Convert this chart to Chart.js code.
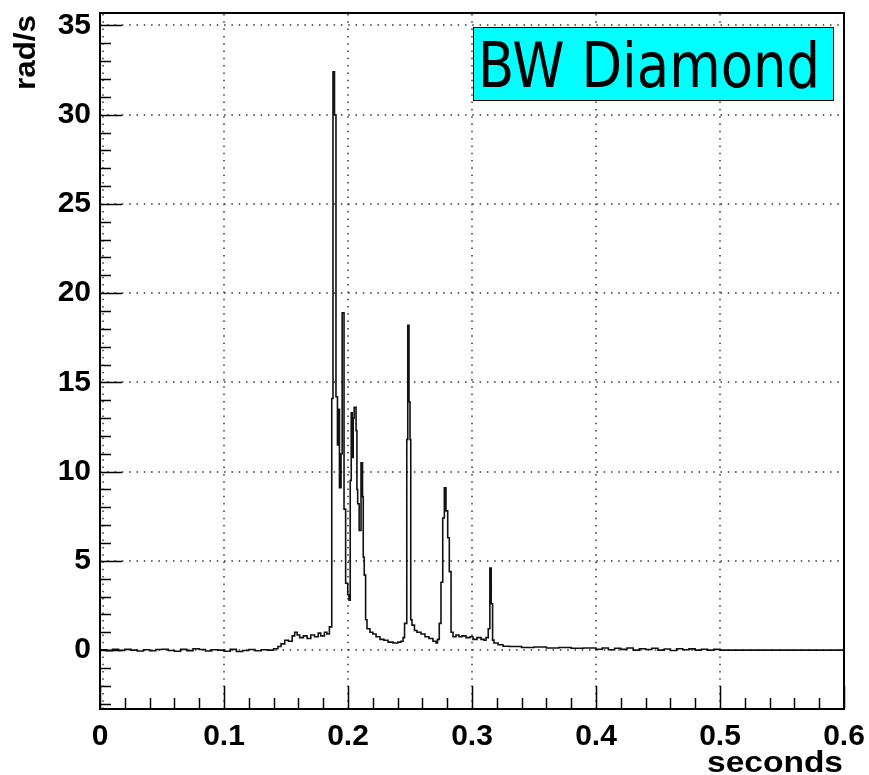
<!DOCTYPE html>
<html>
<head>
<meta charset="utf-8">
<script src="https://cdn.jsdelivr.net/npm/chart.js@4/dist/chart.umd.min.js"></script>
<style>
  body { margin: 0; background: #fff; }
</style>
</head>
<body>
<canvas id="rateChart" width="869" height="775"></canvas>
<script>
// bin start (s) and angular rate (rad/s)
const seconds = [
  0, 0.005, 0.01, 0.015, 0.02, 0.025, 0.03, 0.035, 0.04, 0.045,
  0.05, 0.055, 0.06, 0.065, 0.07, 0.075, 0.08, 0.085, 0.09, 0.095,
  0.1, 0.105, 0.11, 0.115, 0.12, 0.125, 0.13, 0.135, 0.14,
  0.1435, 0.146, 0.149, 0.152, 0.155, 0.157, 0.159, 0.161, 0.164, 0.167,
  0.17, 0.173, 0.176, 0.178, 0.181, 0.183, 0.185,
  0.1869, 0.1879, 0.1891, 0.1903, 0.1915, 0.1923, 0.1931, 0.1944, 0.1953, 0.1968,
  0.1981, 0.1998, 0.2008, 0.2018, 0.2026, 0.2034, 0.2042, 0.205, 0.2065, 0.2072,
  0.2078, 0.209, 0.2105, 0.2117, 0.2123, 0.2131, 0.2142, 0.2153, 0.2177, 0.22,
  0.2226, 0.2258, 0.229, 0.2323, 0.2363, 0.2403, 0.2427, 0.2444, 0.2456,
  0.2474, 0.2482, 0.2492, 0.25, 0.2506, 0.2516, 0.2536, 0.2556, 0.2589, 0.2621,
  0.2653, 0.2685, 0.271, 0.2722,
  0.2736, 0.275, 0.2764, 0.2777, 0.279, 0.2804, 0.2817, 0.2831, 0.2847, 0.2871,
  0.2895, 0.2919, 0.2952, 0.2984, 0.3008, 0.304, 0.3073, 0.3097, 0.3113, 0.3131,
  0.3144, 0.3155, 0.3166, 0.3177, 0.321, 0.325, 0.33, 0.34, 0.35, 0.36,
  0.37, 0.38, 0.39, 0.4, 0.405, 0.41, 0.415, 0.42, 0.425, 0.43,
  0.435, 0.44, 0.445, 0.45, 0.455, 0.46, 0.465, 0.47, 0.475, 0.48,
  0.485, 0.49, 0.495, 0.5, 0.6
];
const radPerSec = [
  0.02, -0.03, 0.05, -0.02, 0.04, 0.0, -0.05, 0.02, -0.04, 0.03,
  0.05, -0.02, -0.06, 0.04, -0.03, 0.08, 0.03, -0.05, 0.02, 0.0,
  -0.06, 0.04, -0.08, -0.02, 0.03, -0.04, 0.02, 0.0, 0.08,
  0.2, 0.35, 0.55, 0.5, 0.8, 1.0, 0.85, 0.7, 0.8, 0.65,
  0.85, 0.75, 0.95, 0.8, 1.0, 0.9, 1.3,
  14.1, 32.4, 30.0, 14.2, 11.5, 13.5, 9.1, 11.0, 18.9, 7.9,
  3.75, 3.1, 2.8, 9.5, 13.3, 10.8, 13.0, 13.6, 12.3, 9.0,
  8.2, 6.7, 10.5, 8.6, 5.2, 4.2, 1.7, 1.2, 1.0, 0.9,
  0.75, 0.6, 0.55, 0.45, 0.4, 0.45, 0.5, 0.7, 1.5,
  11.8, 18.2, 13.9, 11.8, 1.7, 1.4, 1.1, 1.0, 0.9, 0.75,
  0.65, 0.5, 0.4, 0.6,
  1.5, 3.8, 7.4, 9.1, 7.8, 6.3, 4.4, 1.0, 0.75, 0.85,
  0.75, 0.8, 0.7, 0.75, 0.6, 0.7, 0.6, 0.55, 0.7, 1.2,
  4.6, 2.6, 0.56, 0.4, 0.3, 0.22, 0.2, 0.15, 0.17, 0.12,
  0.15, 0.1, 0.12, 0.05, 0.12, 0.02, 0.1, 0.04, 0.12, 0.0,
  0.08, 0.03, 0.1, 0.0, 0.06, -0.02, 0.08, 0.02, 0.07, 0.0,
  0.05, 0.0, 0.04, 0, 0
];
const xTicks = [0, 0.1, 0.2, 0.3, 0.4, 0.5, 0.6];
const yTicks = [0, 5, 10, 15, 20, 25, 30, 35];
const titleText = "BW Diamond";

const tickFont = { family: "'Liberation Sans', Arial, sans-serif", size: 30, weight: "bold" };

// draw text squeezed/stretched to a given width
function fitText(ctx, text, x, y, width) {
  const w = ctx.measureText(text).width;
  ctx.save();
  ctx.translate(x, y);
  ctx.scale(width / w, 1);
  ctx.fillText(text, 0, 0);
  ctx.restore();
}

// ROOT style frame: dotted grid, inside ticks, axis titles, title pave
const rootFrame = {
  id: "rootFrame",
  beforeDatasetsDraw(chart) {
    const { ctx, chartArea: a, scales: { x, y } } = chart;
    ctx.save();
    ctx.strokeStyle = "#333";
    ctx.lineWidth = 1.5;
    ctx.setLineDash([1.5, 5.8]);
    xTicks.forEach(v => {
      const px = Math.round(x.getPixelForValue(v)) + (v === 0 ? 3 : 0);
      ctx.beginPath(); ctx.moveTo(px, a.bottom); ctx.lineTo(px, a.top); ctx.stroke();
    });
    yTicks.forEach(v => {
      const py = Math.round(y.getPixelForValue(v));
      ctx.beginPath(); ctx.moveTo(a.left, py); ctx.lineTo(a.right, py); ctx.stroke();
    });
    ctx.restore();
  },
  afterDraw(chart) {
    const { ctx, chartArea: a, scales: { x, y } } = chart;
    ctx.save();
    ctx.strokeStyle = "#000";
    ctx.lineWidth = 1.5;
    // ticks on x axis
    for (let v = 0; v <= x.max + 1e-9; v += 0.02) {
      const px = Math.round(x.getPixelForValue(v)) + 0.5;
      const major = Math.abs(v * 10 - Math.round(v * 10)) < 1e-6;
      ctx.beginPath(); ctx.moveTo(px, a.bottom); ctx.lineTo(px, a.bottom - (major ? 23 : 11)); ctx.stroke();
    }
    // ticks on y axis
    for (let v = -3; v <= y.max; v += 1) {
      const py = Math.round(y.getPixelForValue(v)) + 0.5;
      const major = v % 5 === 0;
      ctx.beginPath(); ctx.moveTo(a.left, py); ctx.lineTo(a.left + (major ? 22 : 11), py); ctx.stroke();
    }
    // frame
    ctx.lineWidth = 2;
    ctx.strokeRect(a.left, a.top, a.right - a.left, a.bottom - a.top);

    // axis titles
    ctx.fillStyle = "#000";
    ctx.font = "bold 30px 'Liberation Sans', Arial, sans-serif";
    ctx.textAlign = "left";
    ctx.textBaseline = "alphabetic";
    fitText(ctx, "seconds", 707, 772, 136);
    ctx.save();
    ctx.translate(35, 90);
    ctx.rotate(-Math.PI / 2);
    fitText(ctx, "rad/s", 0, 0, 75);
    ctx.restore();

    // title pave
    const bx = 473, by = 27, bw = 360, bh = 73;
    ctx.fillStyle = "#00ffff";
    ctx.fillRect(bx, by, bw, bh);
    ctx.lineWidth = 1;
    ctx.strokeRect(bx + 0.5, by + 0.5, bw, bh);
    ctx.fillStyle = "#000";
    ctx.font = "62px 'DejaVu Sans', Tahoma, sans-serif";
    fitText(ctx, titleText, 478, 87, 342);
    ctx.restore();
  }
};

new Chart(document.getElementById("rateChart"), {
  type: "line",
  data: {
    datasets: [{
      data: seconds.map((s, i) => ({ x: s, y: radPerSec[i] })),
      borderColor: "#111",
      borderWidth: 1.6,
      pointRadius: 0,
      stepped: true,
      fill: false
    }]
  },
  options: {
    responsive: false,
    animation: false,
    layout: { padding: { top: 13, right: 25, left: 0, bottom: 0 } },
    plugins: { legend: { display: false }, tooltip: { enabled: false } },
    scales: {
      x: {
        type: "linear",
        min: 0,
        max: 0.6,
        afterBuildTicks: s => { s.ticks = xTicks.map(v => ({ value: v })); },
        afterFit: s => { s.height = 66; s.paddingLeft = 0; s.paddingRight = 0; },
        grid: { display: false, drawTicks: false },
        border: { display: false },
        ticks: {
          color: "#000",
          font: tickFont,
          padding: 10,
          autoSkip: false,
          maxRotation: 0,
          callback: v => (v === 0 ? "0" : String(+v.toFixed(1)))
        }
      },
      y: {
        min: -3.3,
        max: 35.7,
        afterBuildTicks: s => { s.ticks = yTicks.map(v => ({ value: v })); },
        afterFit: s => { s.width = 100; s.paddingTop = 0; s.paddingBottom = 0; },
        grid: { display: false, drawTicks: false },
        border: { display: false },
        ticks: {
          color: "#000",
          font: tickFont,
          padding: 9,
          autoSkip: false
        }
      }
    }
  },
  plugins: [rootFrame]
});
</script>
</body>
</html>
